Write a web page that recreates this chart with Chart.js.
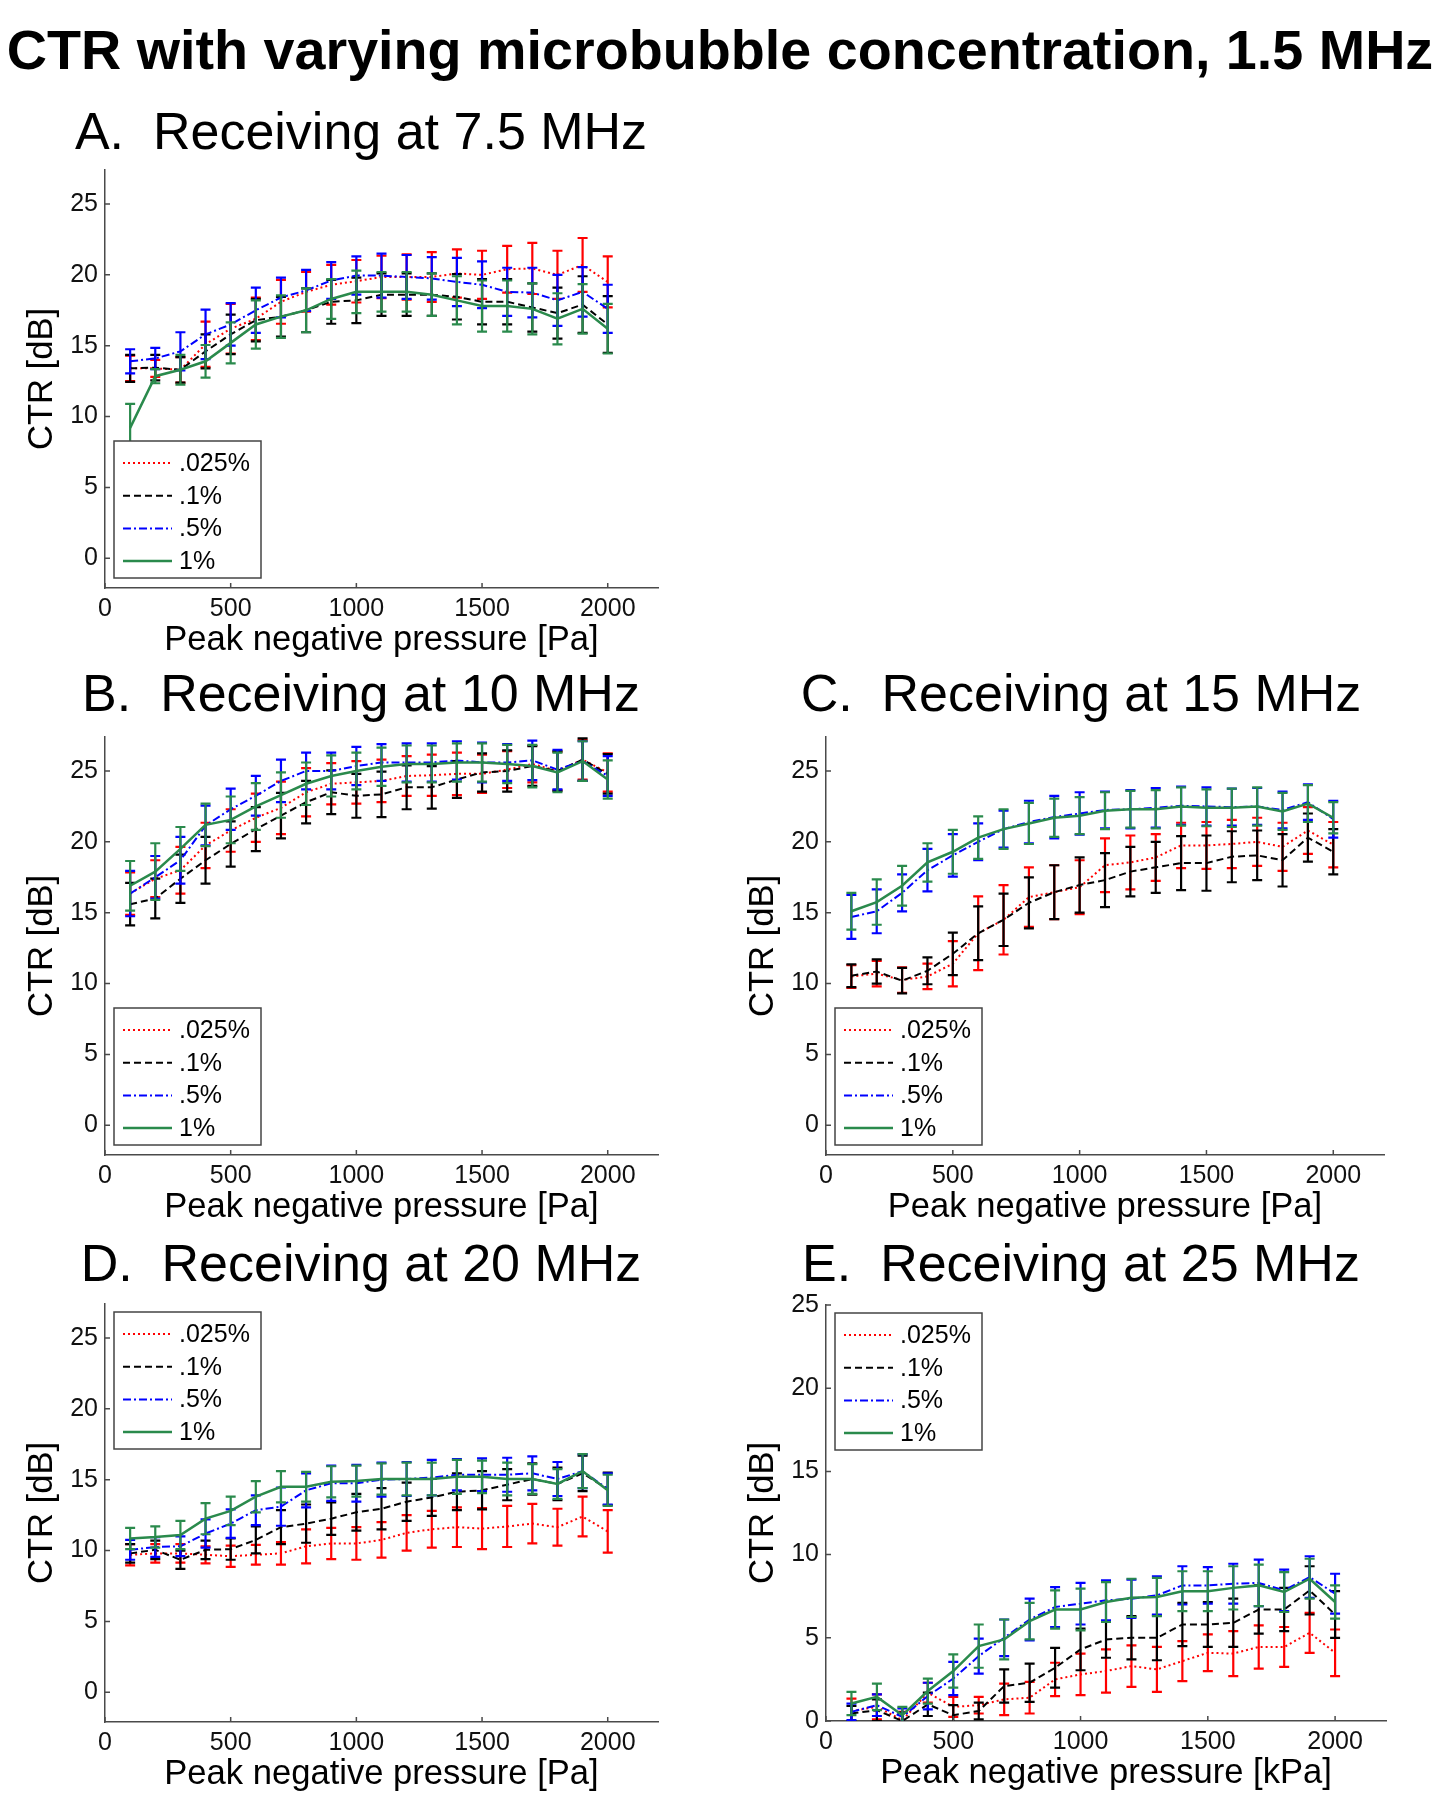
<!DOCTYPE html>
<html>
<head>
<meta charset="utf-8">
<script src="https://cdn.jsdelivr.net/npm/chart.js@4.4.1/dist/chart.umd.min.js"></script>
<style>
  body { margin: 0; background: #fff; }
  #page { position: relative; width: 1441px; height: 1800px; overflow: hidden; font-family: "Liberation Sans", Arial, sans-serif; }
  .ttl { position: absolute; line-height: 1; white-space: pre; color: #000; transform: translateX(-50%); }
  canvas { position: absolute; }
</style>
</head>
<body>
<div id="page">
  <div class="ttl" style="left:720px; top:23px; font-size:55.7px; font-weight:bold;">CTR with varying microbubble concentration, 1.5 MHz</div>
</div>
<script>
/* DATA */
let pressure = [100,200,300,400,500,600,700,800,900,1000,1100,1200,1300,1400,1500,1600,1700,1800,1900,2000];
let conc_labels = [".025%", ".1%", ".5%", "1%"];
let x_tick_vals = [0, 500, 1000, 1500, 2000];
let y_tick_vals = [0, 5, 10, 15, 20, 25];

// A. 7.5 MHz
let a_025 = [13.4,13.4,13.3,15.1,16.2,16.9,18.1,18.8,19.3,19.55,19.85,19.85,19.85,20.1,20.0,20.4,20.45,20.0,20.7,19.5];
let a_025_err = [0.9,0.6,0.9,1.6,1.75,1.5,1.55,1.4,1.4,1.5,1.5,1.6,1.75,1.7,1.7,1.65,1.8,1.7,1.9,1.8];
let a_01 = [13.4,13.45,13.3,14.6,15.8,16.8,17.05,17.5,18.1,18.2,18.6,18.6,18.6,18.45,18.1,18.1,17.7,17.3,17.9,16.5];
let a_01_err = [0.95,0.9,0.9,1.2,1.4,1.5,1.4,1.55,1.55,1.6,1.5,1.5,1.5,1.6,1.6,1.6,1.7,1.8,2.0,2.0];
let a_05 = [13.9,14.1,14.6,15.8,16.5,17.5,18.4,18.9,19.6,19.95,19.95,19.85,19.75,19.5,19.3,18.8,18.75,18.2,18.8,17.6];
let a_05_err = [0.85,0.75,1.35,1.75,1.5,1.6,1.4,1.45,1.3,1.35,1.55,1.55,1.5,1.7,1.65,1.7,1.75,1.8,1.75,1.7];
let a_1 = [9.2,12.85,13.3,13.9,15.2,16.5,17.05,17.5,18.3,18.8,18.8,18.8,18.6,18.2,17.8,17.8,17.6,16.9,17.6,16.2];
let a_1_err = [1.7,0.5,1.05,1.15,1.45,1.7,1.5,1.55,1.4,1.5,1.4,1.4,1.5,1.7,1.8,1.8,1.8,1.8,1.75,1.75];

// B. 10 MHz
let b_025 = [16.35,17.4,18.0,19.75,20.8,21.7,22.4,23.5,24.1,24.2,24.3,24.65,24.7,24.8,24.8,25.1,25.5,25.0,25.8,24.9];
let b_025_err = [1.5,1.3,1.65,1.6,1.5,1.7,1.85,1.7,1.45,1.5,1.5,1.4,1.45,1.5,1.35,1.3,1.3,1.35,1.4,1.35];
let b_01 = [15.6,16.0,17.4,18.7,19.85,20.9,21.85,22.8,23.5,23.25,23.35,23.85,23.85,24.4,24.9,25.0,25.35,25.0,25.8,24.8];
let b_01_err = [1.5,1.4,1.7,1.65,1.6,1.55,1.6,1.5,1.55,1.55,1.6,1.55,1.5,1.3,1.35,1.45,1.4,1.4,1.5,1.4];
let b_05 = [16.35,17.5,18.7,21.15,22.3,23.25,24.3,25.0,25.0,25.35,25.6,25.6,25.6,25.75,25.6,25.6,25.75,25.1,25.7,24.65];
let b_05_err = [1.6,1.5,1.65,1.4,1.45,1.4,1.5,1.3,1.3,1.35,1.3,1.35,1.35,1.35,1.4,1.3,1.4,1.4,1.4,1.4];
let b_1 = [16.9,17.9,19.5,21.2,21.55,22.5,23.3,24.1,24.65,25.0,25.3,25.5,25.5,25.6,25.6,25.5,25.35,24.9,25.7,24.4];
let b_1_err = [1.75,2.0,1.55,1.5,1.65,1.65,1.6,1.5,1.45,1.3,1.35,1.3,1.3,1.35,1.35,1.35,1.5,1.4,1.4,1.35];

// C. 15 MHz
let c_025 = [10.5,10.7,10.25,10.5,11.4,13.55,14.5,16.1,16.45,16.8,18.35,18.55,18.9,19.75,19.75,19.85,20.0,19.65,20.8,19.8];
let c_025_err = [0.8,0.9,0.9,0.9,1.6,2.6,2.45,2.1,1.9,1.9,1.9,1.9,1.65,1.6,1.65,1.7,1.7,1.7,1.65,1.6];
let c_01 = [10.55,10.85,10.2,10.9,12.1,13.55,14.5,15.7,16.45,16.95,17.3,17.9,18.2,18.5,18.5,18.95,19.05,18.7,20.3,19.3];
let c_01_err = [0.8,0.85,0.9,0.95,1.5,1.9,1.85,1.8,1.9,1.95,1.9,1.75,1.8,1.9,1.95,1.8,1.75,1.85,1.7,1.6];
let c_05 = [14.7,15.1,16.4,18.0,19.05,20.0,20.9,21.4,21.75,22.0,22.25,22.3,22.4,22.55,22.5,22.45,22.5,22.25,22.8,21.6];
let c_05_err = [1.55,1.55,1.3,1.5,1.5,1.3,1.3,1.5,1.5,1.5,1.3,1.35,1.4,1.35,1.35,1.3,1.3,1.3,1.25,1.3];
let c_1 = [15.1,15.75,16.9,18.55,19.3,20.3,20.9,21.3,21.7,21.85,22.2,22.3,22.3,22.5,22.4,22.4,22.5,22.15,22.7,21.7];
let c_1_err = [1.3,1.6,1.4,1.35,1.55,1.5,1.4,1.45,1.35,1.3,1.3,1.3,1.35,1.35,1.3,1.35,1.35,1.3,1.3,1.1];

// D. 20 MHz
let d_025 = [9.7,9.8,9.8,9.7,9.6,9.7,9.8,10.3,10.5,10.5,10.75,11.25,11.5,11.65,11.55,11.7,11.9,11.65,12.4,11.35];
let d_025_err = [0.75,0.65,0.65,0.6,0.75,0.7,0.8,1.2,1.1,1.15,1.25,1.25,1.3,1.4,1.45,1.45,1.4,1.3,1.4,1.5];
let d_01 = [9.8,10.05,9.35,10.05,10.1,10.75,11.65,11.9,12.25,12.7,12.95,13.45,13.75,14.15,14.25,14.65,15.05,14.7,15.45,14.35];
let d_01_err = [0.65,0.65,0.65,0.65,0.75,0.95,1.2,1.35,1.15,1.3,1.45,1.35,1.3,1.3,1.35,1.1,1.1,1.15,1.25,1.15];
let d_05 = [10.05,10.25,10.3,11.2,11.9,12.85,13.1,14.25,14.75,14.75,15.0,15.05,15.15,15.35,15.35,15.35,15.45,15.05,15.6,14.35];
let d_05_err = [0.7,0.7,0.7,1.0,1.0,1.05,1.35,1.2,1.25,1.3,1.2,1.2,1.25,1.1,1.15,1.2,1.2,1.2,1.2,1.1];
let d_1 = [10.85,10.95,11.1,12.25,12.8,13.8,14.5,14.5,14.85,14.9,15.05,15.05,15.05,15.2,15.2,15.05,15.05,14.7,15.6,14.25];
let d_1_err = [0.75,0.75,1.0,1.1,1.0,1.1,1.1,1.05,1.1,1.1,1.1,1.15,1.15,1.2,1.15,1.15,1.05,1.05,1.2,1.1];

// E. 25 MHz
let e_025 = [0.6,0.85,0.05,1.7,0.85,0.95,1.3,1.4,2.5,2.8,3.0,3.3,3.1,3.6,4.1,4.05,4.45,4.45,5.3,4.1];
let e_025_err = [0.75,0.75,0.5,0.6,0.6,0.5,0.95,0.95,1.0,1.25,1.3,1.25,1.35,1.2,1.1,1.35,1.3,1.2,1.2,1.4];
let e_01 = [0.45,0.65,0.0,1.0,0.35,0.6,2.1,2.3,3.2,4.3,4.9,5.0,5.0,5.8,5.8,5.9,6.7,6.7,7.85,6.4];
let e_01_err = [0.45,0.65,0.5,0.7,0.6,0.5,1.0,1.15,1.2,1.25,1.1,1.3,1.35,1.3,1.35,1.45,1.45,1.3,1.45,1.4];
let e_05 = [0.55,0.95,0.25,1.5,2.55,3.9,5.0,6.1,6.85,7.05,7.25,7.35,7.55,8.15,8.15,8.25,8.3,7.85,8.65,7.65];
let e_05_err = [0.5,0.65,0.5,0.8,1.0,1.05,1.1,1.25,1.2,1.25,1.2,1.15,1.15,1.15,1.1,1.2,1.4,1.25,1.25,1.2];
let e_1 = [1.05,1.45,0.35,1.8,3.0,4.5,4.9,6.0,6.7,6.7,7.15,7.4,7.45,7.8,7.8,8.0,8.15,7.75,8.55,7.15];
let e_1_err = [0.7,0.8,0.5,0.75,1.0,1.3,1.2,1.1,1.15,1.25,1.2,1.15,1.15,1.2,1.2,1.3,1.25,1.2,1.2,1.0];

/* STYLE SETTING */
const FONT = '"Liberation Sans", Arial, sans-serif';
const AXIS_COLOR = '#4a4a4a';
const SERIES_STYLE = [
  { color: '#ff0000', dash: [2, 3],       width: 2,   order: 3 }, // .025%
  { color: '#000000', dash: [7, 4],       width: 2,   order: 2 }, // .1%
  { color: '#0000ff', dash: [8, 3, 2, 3], width: 2,   order: 1 }, // .5%
  { color: '#2a8a4c', dash: [],           width: 2.5, order: 0 }  // 1%
];
const Y_W = 100, PAD_T = 20, PAD_R = 20, X_H = 80;

/* PLUGINS */
// vertical error bars, drawn right after each series
const errorBars = {
  id: 'errorBars',
  afterDatasetDraw(chart, args) {
    const ds = chart.data.datasets[args.index];
    const {ctx, chartArea: a, scales: {y}} = chart;
    ctx.save();
    ctx.beginPath();
    ctx.rect(a.left, a.top, a.right - a.left, a.bottom - a.top);
    ctx.clip();
    ctx.strokeStyle = ds.borderColor;
    ctx.lineWidth = 2.2;
    ctx.setLineDash([]);
    args.meta.data.forEach((pt, i) => {
      const v = ds.data[i].y, e = ds.err[i];
      const top = y.getPixelForValue(v + e), bot = y.getPixelForValue(v - e);
      ctx.beginPath();
      ctx.moveTo(pt.x, top); ctx.lineTo(pt.x, bot);
      ctx.moveTo(pt.x - 5, top); ctx.lineTo(pt.x + 5, top);
      ctx.moveTo(pt.x - 5, bot); ctx.lineTo(pt.x + 5, bot);
      ctx.stroke();
    });
    ctx.restore();
  }
};

// matlab style ticks pointing inside the axes
const inTicks = {
  id: 'inTicks',
  afterDraw(chart) {
    const {ctx, chartArea: a, scales: {x, y}} = chart;
    ctx.save();
    ctx.strokeStyle = AXIS_COLOR;
    ctx.lineWidth = 1.5;
    ctx.beginPath();
    x.ticks.forEach(t => { const px = x.getPixelForValue(t.value); ctx.moveTo(px, a.bottom); ctx.lineTo(px, a.bottom - 5); });
    y.ticks.forEach(t => { const py = y.getPixelForValue(t.value); ctx.moveTo(a.left, py); ctx.lineTo(a.left + 5, py); });
    ctx.stroke();
    ctx.restore();
  }
};

// boxed legend inside the axes
const boxLegend = {
  id: 'boxLegend',
  afterDraw(chart, args, opts) {
    const {ctx, chartArea: a} = chart;
    const w = 147, h = 137;
    const x0 = a.left + 9;
    const y0 = opts.pos === 'top' ? a.top + 8 : a.bottom - 10 - h;
    ctx.save();
    ctx.fillStyle = '#fff';
    ctx.fillRect(x0, y0, w, h);
    ctx.strokeStyle = '#444';
    ctx.lineWidth = 1.5;
    ctx.strokeRect(x0, y0, w, h);
    chart.data.datasets.forEach((ds, i) => {
      const yy = y0 + 22 + i * 32.7;
      ctx.beginPath();
      ctx.strokeStyle = ds.borderColor;
      ctx.lineWidth = ds.borderWidth;
      ctx.setLineDash(ds.borderDash);
      ctx.moveTo(x0 + 9, yy); ctx.lineTo(x0 + 58, yy);
      ctx.stroke();
      ctx.setLineDash([]);
      ctx.fillStyle = '#000';
      ctx.font = '25px ' + FONT;
      ctx.textBaseline = 'middle';
      ctx.fillText(ds.label, x0 + 65, yy + 1);
    });
    ctx.restore();
  }
};

/* PANEL SETTING */
const panels = [
  { title: 'A.  Receiving at 7.5 MHz', tx: 361, ty: 105, left: 105, top: 168, w: 553, h: 420, yMin: -2.1, yMax: 27.4,
    xLabel: 'Peak negative pressure [Pa]', legend: 'bottom',
    series: [[a_025, a_025_err], [a_01, a_01_err], [a_05, a_05_err], [a_1, a_1_err]] },
  { title: 'B.  Receiving at 10 MHz', tx: 361, ty: 667, left: 105, top: 735, w: 553, h: 420, yMin: -2.1, yMax: 27.4,
    xLabel: 'Peak negative pressure [Pa]', legend: 'bottom',
    series: [[b_025, b_025_err], [b_01, b_01_err], [b_05, b_05_err], [b_1, b_1_err]] },
  { title: 'C.  Receiving at 15 MHz', tx: 1081, ty: 667, left: 826, top: 735, w: 558, h: 420, yMin: -2.1, yMax: 27.4,
    xLabel: 'Peak negative pressure [Pa]', legend: 'bottom',
    series: [[c_025, c_025_err], [c_01, c_01_err], [c_05, c_05_err], [c_1, c_1_err]] },
  { title: 'D.  Receiving at 20 MHz', tx: 361, ty: 1237, left: 105, top: 1302, w: 553, h: 420, yMin: -2.1, yMax: 27.4,
    xLabel: 'Peak negative pressure [Pa]', legend: 'top',
    series: [[d_025, d_025_err], [d_01, d_01_err], [d_05, d_05_err], [d_1, d_1_err]] },
  { title: 'E.  Receiving at 25 MHz', tx: 1081, ty: 1237, left: 826, top: 1303, w: 560, h: 418, yMin: 0, yMax: 25,
    xLabel: 'Peak negative pressure [kPa]', legend: 'top',
    series: [[e_025, e_025_err], [e_01, e_01_err], [e_05, e_05_err], [e_1, e_1_err]] }
];

const page = document.getElementById('page');

panels.forEach(p => {
  // panel title
  const t = document.createElement('div');
  t.className = 'ttl';
  t.style.left = p.tx + 'px';
  t.style.top = p.ty + 'px';
  t.style.fontSize = '52px';
  t.textContent = p.title;
  page.appendChild(t);

  // canvas
  const cv = document.createElement('canvas');
  cv.width = Y_W + p.w + PAD_R;
  cv.height = PAD_T + p.h + X_H;
  cv.style.left = (p.left - Y_W) + 'px';
  cv.style.top = (p.top - PAD_T) + 'px';
  page.appendChild(cv);

  const datasets = p.series.map((s, i) => ({
    label: conc_labels[i],
    data: pressure.map((x, k) => ({ x: x, y: s[0][k] })),
    err: s[1],
    borderColor: SERIES_STYLE[i].color,
    borderDash: SERIES_STYLE[i].dash,
    borderWidth: SERIES_STYLE[i].width,
    order: SERIES_STYLE[i].order,
    pointRadius: 0,
    fill: false,
    tension: 0
  }));

  new Chart(cv.getContext('2d'), {
    type: 'line',
    data: { datasets: datasets },
    plugins: [errorBars, inTicks, boxLegend],
    options: {
      responsive: false,
      animation: false,
      layout: { padding: { left: 0, top: PAD_T, right: PAD_R, bottom: 0 } },
      plugins: {
        legend: { display: false },
        tooltip: { enabled: false },
        boxLegend: { pos: p.legend }
      },
      scales: {
        x: {
          type: 'linear', min: 0, max: 2200,
          afterFit(s) { s.height = X_H; },
          afterBuildTicks(s) { s.ticks = x_tick_vals.map(v => ({ value: v })); },
          border: { color: AXIS_COLOR, width: 1.5 },
          grid: { display: false, drawTicks: false },
          ticks: { padding: 6, color: '#111', font: { family: FONT, size: 25 }, callback: v => String(v) },
          title: { display: true, text: p.xLabel, color: '#000',
                   font: { family: FONT, size: 34.6 }, padding: { top: 0, bottom: 7 } }
        },
        y: {
          type: 'linear', min: p.yMin, max: p.yMax,
          afterFit(s) { s.width = Y_W; },
          afterBuildTicks(s) { s.ticks = y_tick_vals.map(v => ({ value: v })); },
          border: { color: AXIS_COLOR, width: 1.5 },
          grid: { display: false, drawTicks: false },
          ticks: { padding: 7, color: '#111', font: { family: FONT, size: 25 }, callback: v => String(v) },
          title: { display: true, text: 'CTR [dB]', color: '#000',
                   font: { family: FONT, size: 34.6 }, padding: { top: 17, bottom: 0 } }
        }
      }
    }
  });
});
</script>
</body>
</html>
